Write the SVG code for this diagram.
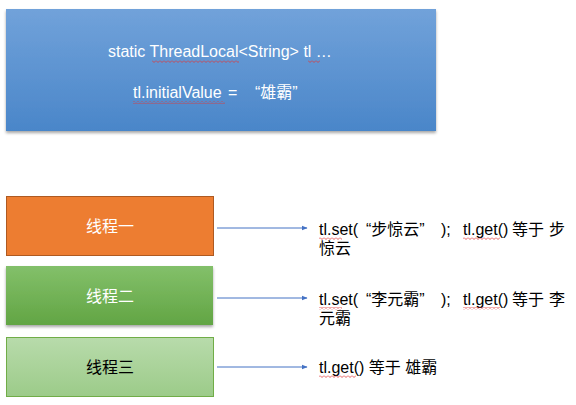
<svg xmlns="http://www.w3.org/2000/svg" width="576" height="405" viewBox="0 0 576 405">
<defs>
<linearGradient id="gBlue" x1="0" y1="0" x2="0" y2="1"><stop offset="0" stop-color="#71a2da"/><stop offset="1" stop-color="#4a86c9"/></linearGradient>
<linearGradient id="gGreen" x1="0" y1="0" x2="0" y2="1"><stop offset="0" stop-color="#83c06a"/><stop offset="1" stop-color="#62a544"/></linearGradient>
<linearGradient id="gLight" x1="0" y1="0" x2="0" y2="1"><stop offset="0" stop-color="#b8dbab"/><stop offset="1" stop-color="#9ccb89"/></linearGradient>
<filter id="sh" x="-5%" y="-10%" width="110%" height="125%"><feDropShadow dx="0" dy="2" stdDeviation="1.5" flood-color="#000" flood-opacity="0.35"/></filter>
<marker id="arr" viewBox="0 0 10 10" refX="9" refY="5" markerWidth="6" markerHeight="6" orient="auto"><path d="M0,1 L10,5 L0,9 z" fill="#4472c4"/></marker>
<pattern id="wv" width="4" height="3" patternUnits="userSpaceOnUse"><path d="M0,0.5 L2,2.5 L4,0.5" fill="none" stroke="#e03535" stroke-width="0.8"/></pattern>
</defs>
<style>
text{font-family:"Liberation Sans","Noto Sans CJK SC",sans-serif;font-size:16px;white-space:pre;}
.w{fill:#fff;}
.k{fill:#000;}
.c{text-anchor:middle;}
.conn line{stroke:#4472c4;stroke-width:1;marker-end:url(#arr);}
.sq{fill:url(#wv);}
</style>
<g id="top">
<rect x="6" y="9" width="430" height="122" fill="url(#gBlue)" filter="url(#sh)"/>
<text class="w" x="108" y="57">static ThreadLocal&lt;String&gt; tl …</text>
<text class="w" y="98"><tspan x="133">tl.initialValue</tspan><tspan x="228">=</tspan><tspan x="255">“雄霸”</tspan></text>
<rect class="sq" x="152" y="60" width="87" height="3"/>
<rect class="sq" x="308" y="60" width="12" height="3"/>
<rect class="sq" x="133" y="101" width="92" height="3"/>
</g>
<g id="t1">
<rect x="6.5" y="196.5" width="207" height="59" fill="#ed7d31" stroke="#ae5a21" stroke-width="1"/>
<text class="w c" x="110" y="232">线程一</text>
</g>
<g id="t2">
<rect x="6" y="266" width="207" height="59" fill="url(#gGreen)" filter="url(#sh)"/>
<text class="w c" x="110" y="302">线程二</text>
</g>
<g id="t3">
<rect x="6.5" y="337.5" width="207" height="59" fill="url(#gLight)" stroke="#70ad47" stroke-width="1"/>
<text class="k c" x="110" y="373">线程三</text>
</g>
<g id="connectors" class="conn">
<line x1="217" y1="228" x2="307" y2="228"/>
<line x1="217" y1="298" x2="307" y2="298"/>
<line x1="217" y1="367" x2="307" y2="367"/>
</g>
<g id="r1">
<text class="k" y="235"><tspan x="319">tl.set(</tspan><tspan x="366">“步惊云”</tspan><tspan x="441">);</tspan><tspan x="463">tl.get()</tspan><tspan x="512">等于</tspan><tspan x="549">步</tspan></text>
<text class="k" x="319" y="254">惊云</text>
<rect class="sq" x="319" y="237" width="23" height="3"/>
<rect class="sq" x="463" y="237" width="37" height="3"/>
</g>
<g id="r2">
<text class="k" y="305"><tspan x="319">tl.set(</tspan><tspan x="366">“李元霸”</tspan><tspan x="441">);</tspan><tspan x="463">tl.get()</tspan><tspan x="512">等于</tspan><tspan x="549">李</tspan></text>
<text class="k" x="319" y="324">元霸</text>
<rect class="sq" x="319" y="307" width="23" height="3"/>
<rect class="sq" x="463" y="307" width="37" height="3"/>
</g>
<g id="r3">
<text class="k" x="319" y="373">tl.get() 等于 雄霸</text>
<rect class="sq" x="319" y="375" width="37" height="3"/>
</g>
</svg>
